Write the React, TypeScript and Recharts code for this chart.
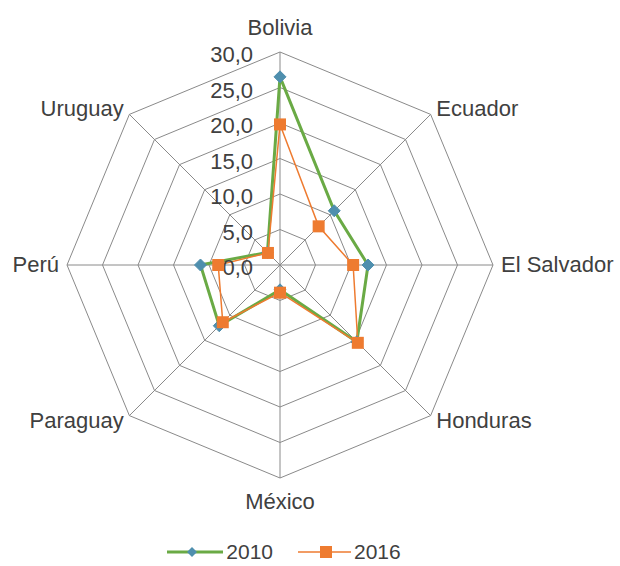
import { Legend, PolarAngleAxis, PolarGrid, PolarRadiusAxis, Radar, RadarChart } from "recharts";

const countries = ["Bolivia", "Ecuador", "El Salvador", "Honduras", "México", "Paraguay", "Perú", "Uruguay"];
const values2010 = [26.5, 10.8, 12.4, 15.3, 3.5, 12.1, 11.2, 2.5];
const values2016 = [19.8, 7.7, 10.3, 15.5, 3.9, 11.4, 8.7, 2.4];
const radiusTicks = [0, 5, 10, 15, 20, 25, 30];

const data = countries.map((c, i) => ({ country: c, y2010: values2010[i], y2016: values2016[i] }));

const FONT = "'Liberation Sans', Arial, sans-serif";
const TEXT = "#404040";
const GREEN = "#6aaa45";
const BLUE = "#4f8fae";
const ORANGE = "#ee7b30";

const fmt = (v: number) => v.toFixed(1).replace(".", ",");

function AngleTick(props: any) {
  const { x, y, textAnchor, payload } = props;
  let dy = 7;
  if (textAnchor === "middle") dy = y < 265 ? -9 : 23;
  return (
    <text x={x} y={y + dy} textAnchor={textAnchor} fill={TEXT} fontSize={22} fontFamily={FONT}>
      {payload.value}
    </text>
  );
}

function RadiusTick(props: any) {
  const { x, y, payload } = props;
  return (
    <text x={x - 27} y={y + 10} textAnchor="end" fill={TEXT} fontSize={22} fontFamily={FONT}>
      {fmt(payload.value)}
    </text>
  );
}

function Diamond(props: any) {
  const { cx, cy } = props;
  if (cx == null) return null;
  const s = 6;
  return <path d={`M${cx},${cy - s}L${cx + s},${cy}L${cx},${cy + s}L${cx - s},${cy}Z`} fill={BLUE} stroke={BLUE} strokeWidth={1} />;
}

function Square(props: any) {
  const { cx, cy } = props;
  if (cx == null) return null;
  return <rect x={cx - 6} y={cy - 6} width={12} height={12} fill={ORANGE} />;
}

function LegendContent() {
  return (
    <div style={{ display: "flex", justifyContent: "center", alignItems: "center", fontFamily: FONT, fontSize: 21, color: TEXT, lineHeight: "22px" }}>
      <svg width={56} height={14}>
        <line x1={0} y1={7} x2={56} y2={7} stroke={GREEN} strokeWidth={3} />
        <path d="M25,2L30,7L25,12L20,7Z" fill={BLUE} />
      </svg>
      <span style={{ marginLeft: 3, marginRight: 25 }}>2010</span>
      <svg width={53} height={14}>
        <line x1={0} y1={7} x2={53} y2={7} stroke={ORANGE} strokeWidth={1.5} />
        <rect x={22} y={1} width={12} height={12} fill={ORANGE} />
      </svg>
      <span style={{ marginLeft: 3 }}>2016</span>
    </div>
  );
}

export default function App() {
  return (
    <div style={{ position: "fixed", left: 0, top: 0, width: 620, height: 566, background: "#fff" }}>
      <RadarChart width={620} height={566} data={data} cx={280} cy={265} outerRadius={213} margin={{ top: 0, right: 0, bottom: 0, left: 0 }}>
        <PolarGrid stroke="#8a8a8a" strokeWidth={1} />
        <PolarAngleAxis dataKey="country" tick={<AngleTick />} tickLine={false} axisLine={false} />
        <PolarRadiusAxis angle={90} domain={[0, 30]} ticks={radiusTicks} tick={<RadiusTick />} axisLine={false} tickLine={false} />
        <Radar name="2010" dataKey="y2010" stroke={GREEN} strokeWidth={3} fill="none" dot={<Diamond />} isAnimationActive={false} />
        <Radar name="2016" dataKey="y2016" stroke={ORANGE} strokeWidth={1.5} fill="none" dot={<Square />} isAnimationActive={false} />
        <Legend content={<LegendContent />} wrapperStyle={{ top: 541, left: 0, width: 568 }} />
      </RadarChart>
    </div>
  );
}
